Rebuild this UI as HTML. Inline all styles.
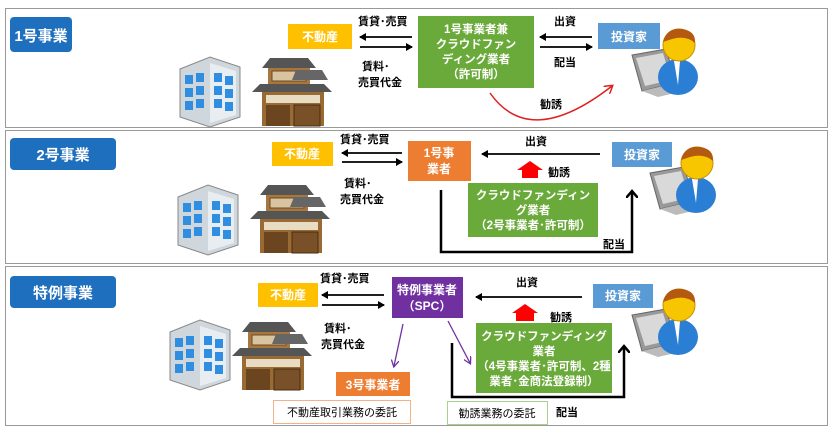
<!DOCTYPE html><html><head><meta charset="utf-8"><style>
html,body{margin:0;padding:0;background:#fff;width:833px;height:438px;overflow:hidden}
text{font-family:"Liberation Sans","Noto Sans CJK JP",sans-serif;font-weight:bold}
</style></head><body>
<svg width="833" height="438" viewBox="0 0 833 438" xmlns="http://www.w3.org/2000/svg">
<defs>
<marker id="ah" markerWidth="8" markerHeight="8" refX="6" refY="4" orient="auto" markerUnits="userSpaceOnUse"><path d="M0,0 L7,4 L0,8 Z" fill="#000"/></marker>
<marker id="ahr" markerWidth="10" markerHeight="10" refX="7" refY="5" orient="auto" markerUnits="userSpaceOnUse"><path d="M0,0 L8,5 L0,10" fill="none" stroke="#e02020" stroke-width="1.5"/></marker>
<marker id="ahb" markerWidth="12" markerHeight="12" refX="6" refY="6" orient="auto" markerUnits="userSpaceOnUse"><path d="M0,0 L7,6 L0,12" fill="none" stroke="#000" stroke-width="2.5"/></marker>
<marker id="ahp" markerWidth="8" markerHeight="8" refX="6" refY="4" orient="auto" markerUnits="userSpaceOnUse"><path d="M0,0 L7,4 L0,8" fill="none" stroke="#7030a0" stroke-width="1.3"/></marker>
<g id="bld">
<path d="M0,12 L30,0 L60,10 L60,60 L30,70 L0,60 Z" fill="#cfd6dc" stroke="#888"/>
<path d="M30,6 L56,14 L56,58 L30,66 Z" fill="#e8edf1"/>
<g fill="#2f8ee0">
<rect x="5" y="18" width="8" height="9"/><rect x="16" y="16" width="8" height="9"/>
<rect x="5" y="31" width="8" height="9"/><rect x="16" y="29" width="8" height="9"/>
<rect x="5" y="44" width="8" height="9"/><rect x="16" y="42" width="8" height="9"/>
<rect x="34" y="16" width="8" height="9"/><rect x="45" y="19" width="8" height="9"/>
<rect x="34" y="29" width="8" height="9"/><rect x="45" y="32" width="8" height="9"/>
<rect x="34" y="42" width="8" height="9"/><rect x="45" y="45" width="8" height="9"/>
</g></g>
<g id="hse">
<path d="M18,0 L56,0 L64,10 L10,10 Z" fill="#555"/>
<rect x="16" y="10" width="42" height="16" fill="#a8773f"/>
<rect x="20" y="13" width="34" height="10" fill="#d8c4a0" stroke="#6b4a22"/>
<path d="M44,12 L70,12 L76,22 L40,22 Z" fill="#666"/>
<path d="M0,34 L80,34 L72,26 L8,26 Z" fill="#555"/>
<rect x="10" y="34" width="62" height="34" fill="#9a6a35"/>
<rect x="14" y="37" width="54" height="8" fill="#e8dcc3"/>
<rect x="14" y="47" width="24" height="21" fill="#6b4520"/>
<rect x="42" y="47" width="26" height="21" fill="#7a5028" stroke="#4a2e10"/>
</g>
<g id="psn">
<path d="M10,28 L44,22 L54,56 L20,64 Z" fill="#999" stroke="#666"/>
<path d="M14,31 L41,26 L49,53 L23,59 Z" fill="#d9d9d9"/>
<path d="M20,64 L54,56 L70,62 L36,70 Z" fill="#bbb"/>
<ellipse cx="56" cy="50" rx="20" ry="18" fill="#2a7fd4"/>
<path d="M52,34 L58,34 L56,58 Z" fill="#fff"/>
<circle cx="57" cy="18" r="16" fill="#f7c600" stroke="#c89000"/>
<path d="M41,15 Q45,0 60,2 Q74,4 73,16 Q64,8 50,12 Z" fill="#b35a10"/>
</g>
</defs>
<!-- panels -->
<rect x="5.5" y="8.5" width="822" height="119" fill="none" stroke="#999"/>
<rect x="5.5" y="130.5" width="822" height="133" fill="none" stroke="#999"/>
<rect x="5.5" y="266.5" width="822" height="159" fill="none" stroke="#999"/>

<!-- panel 1 -->
<rect x="10" y="17" width="62" height="35" rx="4" fill="#1f6fbf"/>
<text x="41" y="41" fill="#fff" font-size="15" text-anchor="middle">1号事業</text>
<use href="#bld" x="180" y="57"/>
<use href="#hse" x="252" y="58"/>
<rect x="288" y="24" width="64" height="25" fill="#ffc000"/>
<text x="320" y="41" fill="#fff" font-size="12" text-anchor="middle">不動産</text>
<text x="358" y="25" font-size="11">賃貸･売買</text>
<line x1="412" y1="37" x2="360" y2="37" stroke="#000" stroke-width="1.8" marker-end="url(#ah)"/>
<line x1="360" y1="47" x2="412" y2="47" stroke="#000" stroke-width="1.8" marker-end="url(#ah)"/>
<text x="362" y="70" font-size="11">賃料･</text>
<text x="358" y="86" font-size="11">売買代金</text>
<rect x="418" y="16" width="116" height="72" fill="#6aaa3a"/>
<g fill="#fff" font-size="11.5" text-anchor="middle">
<text x="476" y="33">1号事業者兼</text><text x="476" y="48">クラウドファン</text><text x="476" y="63">ディング業者</text><text x="476" y="78">（許可制）</text></g>
<text x="554" y="25" font-size="11">出資</text>
<line x1="592" y1="37" x2="540" y2="37" stroke="#000" stroke-width="1.8" marker-end="url(#ah)"/>
<line x1="540" y1="47" x2="592" y2="47" stroke="#000" stroke-width="1.8" marker-end="url(#ah)"/>
<text x="554" y="66" font-size="11">配当</text>
<rect x="598" y="23" width="62" height="26" fill="#5b9bd5"/>
<text x="629" y="41" fill="#fff" font-size="12" text-anchor="middle">投資家</text>
<use href="#psn" x="622" y="27"/>
<path d="M490,93 Q530,150 612,86" fill="none" stroke="#e02020" stroke-width="1.5" marker-end="url(#ahr)"/>
<text x="540" y="108" font-size="11">勧誘</text>

<!-- panel 2 -->
<rect x="10" y="138" width="106" height="32" rx="4" fill="#1f6fbf"/>
<text x="63" y="160" fill="#fff" font-size="15" text-anchor="middle">2号事業</text>
<use href="#bld" x="178" y="185"/>
<use href="#hse" x="250" y="185"/>
<rect x="272" y="142" width="61" height="24" fill="#ffc000"/>
<text x="302" y="158" fill="#fff" font-size="12" text-anchor="middle">不動産</text>
<text x="340" y="143" font-size="11">賃貸･売買</text>
<line x1="402" y1="153" x2="342" y2="153" stroke="#000" stroke-width="1.8" marker-end="url(#ah)"/>
<line x1="342" y1="162" x2="402" y2="162" stroke="#000" stroke-width="1.8" marker-end="url(#ah)"/>
<text x="344" y="187" font-size="11">賃料･</text>
<text x="340" y="203" font-size="11">売買代金</text>
<rect x="408" y="141" width="63" height="40" fill="#ed7d31"/>
<text x="439" y="157" fill="#fff" font-size="12" text-anchor="middle">1号事</text>
<text x="439" y="173" fill="#fff" font-size="12" text-anchor="middle">業者</text>
<text x="525" y="145" font-size="11">出資</text>
<line x1="600" y1="154" x2="482" y2="154" stroke="#000" stroke-width="1.8" marker-end="url(#ah)"/>
<path d="M522,178 L522,170 L517,170 L530,161 L543,170 L538,170 L538,178 Z" fill="#ff0000"/>
<text x="548" y="176" font-size="11">勧誘</text>
<rect x="468" y="183" width="130" height="54" fill="#6aaa3a"/>
<g fill="#fff" font-size="11.5" text-anchor="middle">
<text x="533" y="199">クラウドファンディン</text><text x="533" y="214">グ業者</text><text x="533" y="229">（2号事業者･許可制）</text></g>
<rect x="612" y="142" width="60" height="25" fill="#5b9bd5"/>
<text x="642" y="159" fill="#fff" font-size="12" text-anchor="middle">投資家</text>
<use href="#psn" x="640" y="145"/>
<path d="M441,190 L441,252 L632,252 L632,192" fill="none" stroke="#000" stroke-width="2.5" marker-end="url(#ahb)"/>
<text x="603" y="248" font-size="11">配当</text>

<!-- panel 3 -->
<rect x="10" y="276" width="106" height="32" rx="4" fill="#1f6fbf"/>
<text x="63" y="298" fill="#fff" font-size="15" text-anchor="middle">特例事業</text>
<use href="#bld" x="170" y="320"/>
<use href="#hse" x="232" y="322"/>
<rect x="258" y="283" width="60" height="24" fill="#ffc000"/>
<text x="288" y="299" fill="#fff" font-size="12" text-anchor="middle">不動産</text>
<text x="320" y="282" font-size="11">賃貸･売買</text>
<line x1="384" y1="295" x2="322" y2="295" stroke="#000" stroke-width="1.8" marker-end="url(#ah)"/>
<line x1="322" y1="305" x2="384" y2="305" stroke="#000" stroke-width="1.8" marker-end="url(#ah)"/>
<text x="324" y="332" font-size="11">賃料･</text>
<text x="321" y="348" font-size="11">売買代金</text>
<rect x="392" y="277" width="71" height="41" fill="#7030a0"/>
<text x="427" y="294" fill="#fff" font-size="12" text-anchor="middle">特例事業者</text>
<text x="427" y="310" fill="#fff" font-size="12" text-anchor="middle">（SPC）</text>
<text x="516" y="286" font-size="11">出資</text>
<line x1="582" y1="297" x2="476" y2="297" stroke="#000" stroke-width="1.8" marker-end="url(#ah)"/>
<path d="M516,321 L516,313 L512,313 L525,304 L538,313 L534,313 L534,321 Z" fill="#ff0000"/>
<text x="550" y="321" font-size="11">勧誘</text>
<rect x="476" y="323" width="136" height="70" fill="#6aaa3a"/>
<g fill="#fff" font-size="11.5" text-anchor="middle">
<text x="544" y="340">クラウドファンディング</text><text x="544" y="355">業者</text><text x="544" y="370">（4号事業者･許可制、2種</text><text x="544" y="385">業者･金商法登録制）</text></g>
<rect x="593" y="284" width="60" height="24" fill="#5b9bd5"/>
<text x="623" y="300" fill="#fff" font-size="12" text-anchor="middle">投資家</text>
<use href="#psn" x="622" y="287"/>
<line x1="403" y1="324" x2="394" y2="366" stroke="#7030a0" stroke-width="1.3" marker-end="url(#ahp)"/>
<line x1="448" y1="321" x2="470" y2="363" stroke="#7030a0" stroke-width="1.3" marker-end="url(#ahp)"/>
<path d="M452,343 L452,397 L624,397 L624,347" fill="none" stroke="#000" stroke-width="2.5" marker-end="url(#ahb)"/>
<rect x="336" y="372" width="74" height="24" fill="#ed7d31"/>
<text x="373" y="389" fill="#fff" font-size="12" text-anchor="middle">3号事業者</text>
<rect x="273.5" y="400.5" width="137" height="23" fill="#fff" stroke="#f4b183"/>
<text x="342" y="416" font-size="11" font-weight="normal" text-anchor="middle" style="font-weight:normal">不動産取引業務の委託</text>
<rect x="447.5" y="401.5" width="100" height="23" fill="#fff" stroke="#a9d18e"/>
<text x="497" y="417" font-size="11" text-anchor="middle" style="font-weight:normal">勧誘業務の委託</text>
<text x="556" y="416" font-size="11">配当</text>
</svg>
</body></html>
